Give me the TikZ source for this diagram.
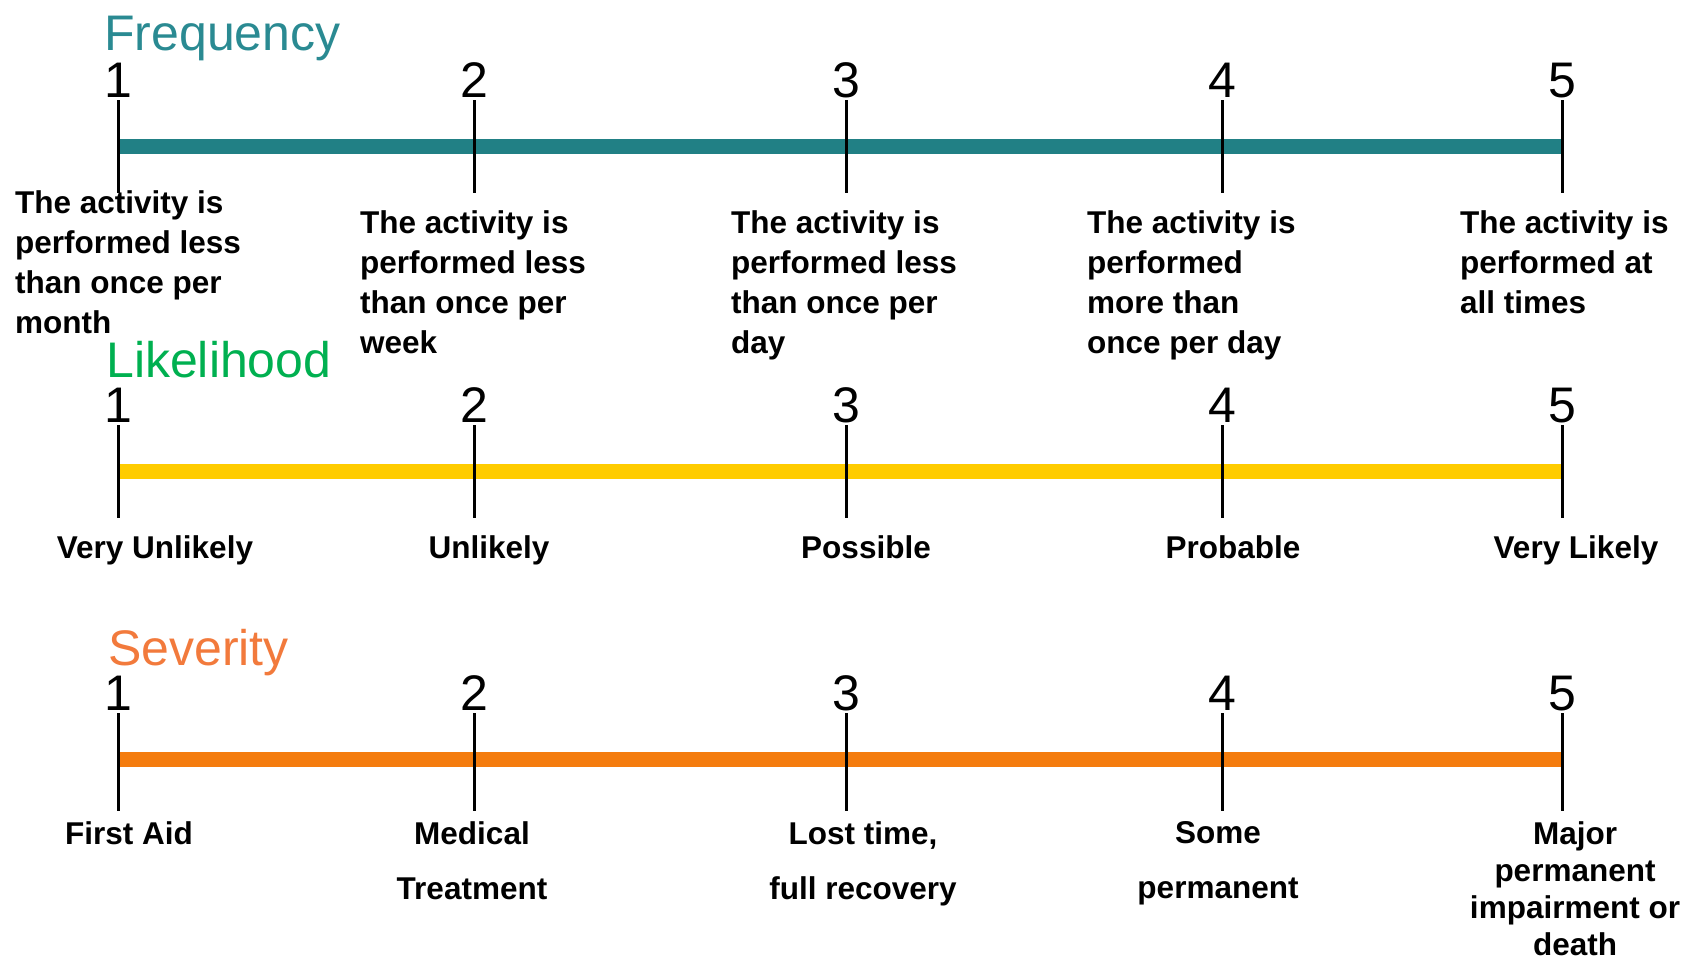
\documentclass[tikz,border=0pt]{standalone}
\usepackage{fontspec}
\setmainfont{Liberation Sans}
\usetikzlibrary{positioning}
\definecolor{freq}{RGB}{33,128,133}
\definecolor{freqhead}{RGB}{42,138,146}
\definecolor{like}{RGB}{255,204,0}
\definecolor{likehead}{RGB}{0,176,80}
\definecolor{sev}{RGB}{244,124,14}
\definecolor{sevhead}{RGB}{242,122,60}

\begin{document}
\begin{tikzpicture}[x=1pt,y=-1pt,
                    head/.style={inner sep=0pt,anchor=base west,font=\fontsize{50}{50}\selectfont},
                    num/.style={inner sep=0pt,font=\fontsize{50}{50}\selectfont},
                    lbl/.style={inner sep=0pt,font=\bfseries\fontsize{31.5}{40}\selectfont},
                    bar/.style={line width=15pt},
                    tickline/.style={line width=3pt}]

 \useasboundingbox (0,0) rectangle (1694,962);

 % Frequency
 \node[head,text=freqhead] (F) at (104,50) {Frequency};
 \coordinate (Fl) at (118,146);
 \coordinate (Fr) at (1562,146);
 \draw[bar,freq] (Fl) -- (Fr);
 \foreach \x [count=\i] in {118,474,846,1222,1562}{
   \coordinate (Ft\i) at (\x,100);
   \coordinate (Fb\i) at (\x,193);
   \draw[tickline] (Ft\i) -- (Fb\i);
   \node[num,above=2pt of Ft\i] (Fn\i) {\i};
 }
 \node[lbl,align=left,anchor=north west] (Fd1) at (15,190)   {The activity is\\performed less\\than once per\\month};
 \node[lbl,align=left,anchor=north west] (Fd2) at (360,210)  {The activity is\\performed less\\than once per\\week};
 \node[lbl,align=left,anchor=north west] (Fd3) at (731,210)  {The activity is\\performed less\\than once per\\day};
 \node[lbl,align=left,anchor=north west] (Fd4) at (1087,210) {The activity is\\performed\\more than\\once per day};
 \node[lbl,align=left,anchor=north west] (Fd5) at (1460,210) {The activity is\\performed at\\all times};

 % Likelihood
 \node[head,text=likehead] (L) at (106,377) {Likelihood};
 \coordinate (Ll) at (118,471);
 \coordinate (Lr) at (1562,471);
 \draw[bar,like] (Ll) -- (Lr);
 \foreach \x [count=\i] in {118,474,846,1222,1562}{
   \coordinate (Lt\i) at (\x,425);
   \coordinate (Lb\i) at (\x,518);
   \draw[tickline] (Lt\i) -- (Lb\i);
   \node[num,above=2pt of Lt\i] (Ln\i) {\i};
 }
 \node[lbl,anchor=base] (Ld1) at (155,558)  {Very Unlikely};
 \node[lbl,anchor=base] (Ld2) at (489,558)  {Unlikely};
 \node[lbl,anchor=base] (Ld3) at (866,558)  {Possible};
 \node[lbl,anchor=base] (Ld4) at (1233,558) {Probable};
 \node[lbl,anchor=base] (Ld5) at (1576,558) {Very Likely};

 % Severity
 \node[head,text=sevhead] (S) at (108,665) {Severity};
 \coordinate (Sl) at (118,759);
 \coordinate (Sr) at (1562,759);
 \draw[bar,sev] (Sl) -- (Sr);
 \foreach \x [count=\i] in {118,474,846,1222,1562}{
   \coordinate (St\i) at (\x,713);
   \coordinate (Sb\i) at (\x,811);
   \draw[tickline] (St\i) -- (Sb\i);
   \node[num,above=2pt of St\i] (Sn\i) {\i};
 }
 \node[lbl,align=center,anchor=north,font=\bfseries\fontsize{31.5}{55}\selectfont] (Sd1) at (129,821)  {First Aid};
 \node[lbl,align=center,anchor=north,font=\bfseries\fontsize{31.5}{55}\selectfont] (Sd2) at (472,821)  {Medical\\Treatment};
 \node[lbl,align=center,anchor=north,font=\bfseries\fontsize{31.5}{55}\selectfont] (Sd3) at (863,821)  {Lost time,\\full recovery};
 \node[lbl,align=center,anchor=north,font=\bfseries\fontsize{31.5}{55}\selectfont] (Sd4) at (1218,821) {Some\\permanent};
 \node[lbl,align=center,anchor=north,font=\bfseries\fontsize{31.5}{37}\selectfont] (Sd5) at (1575,821) {Major\\permanent\\impairment or\\death};

\end{tikzpicture}
\end{document}
